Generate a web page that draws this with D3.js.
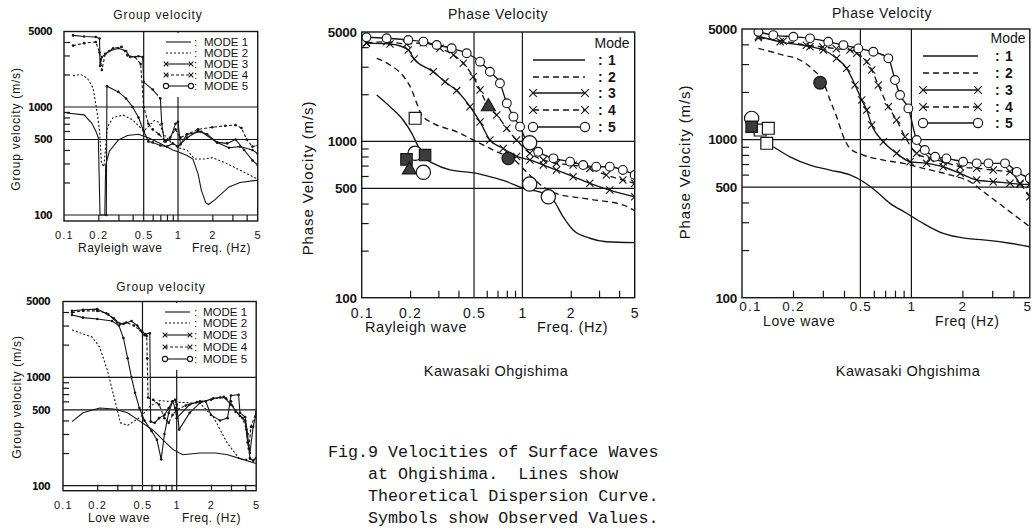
<!DOCTYPE html>
<html>
<head>
<meta charset="utf-8">
<script src="https://cdn.jsdelivr.net/npm/d3@7"></script>
<style>
body { margin: 0; background: #fff; }
svg { display: block; }
</style>
</head>
<body>
<svg id="fig" width="1032" height="529"></svg>
<script>
// ---- axis values ----
const freqLabels = [0.1, 0.2, 0.5, 1, 2, 5];
const freqTicks = [0.2, 0.3, 0.4, 0.6, 0.7, 0.8, 0.9, 2, 3, 4];
const freqGrid = [0.5, 1];
const velLabels = [100, 500, 1000, 5000];
const velTicks = [200, 300, 400, 600, 700, 800, 900, 2000, 3000, 4000];
const groupLegend = ['MODE 1', 'MODE 2', 'MODE 3', 'MODE 4', 'MODE 5'];
const phaseLegend = ['1', '2', '3', '4', '5'];

// ---- Rayleigh wave, group velocity [freq Hz, m/s] ----
const rgMode1 = [[0.105,880],[0.15,845],[0.175,710],[0.19,600],[0.2,520],[0.207,100],[0.228,100],[0.232,290],[0.25,390],[0.3,495],[0.36,545],[0.45,560],[0.55,520],[0.7,460],[0.9,400],[1.0,385],[1.2,355],[1.35,330],[1.5,240],[1.6,170],[1.75,130],[1.85,125],[2.1,138],[2.8,182],[3.5,200],[5,210]];
const rgMode2 = [[0.12,1950],[0.14,2000],[0.16,1850],[0.18,1500],[0.195,900],[0.205,600],[0.213,300],[0.224,280],[0.24,650],[0.27,800],[0.33,840],[0.4,760],[0.5,600],[0.55,660],[0.62,750],[0.68,720],[0.75,560],[0.85,480],[1.0,420],[1.2,400],[1.4,330],[1.7,330],[2.0,340],[2.5,310],[3.5,260],[5,215]];
const rgMode3 = [[0.235,100],[0.238,1560],[0.3,1380],[0.35,1200],[0.4,1000],[0.45,800],[0.5,600],[0.55,480],[0.6,470],[0.7,440],[0.8,430],[0.9,460],[1.0,430],[1.2,520],[1.5,600],[1.8,560],[2.2,470],[2.7,460],[3.2,500],[3.8,400],[4.5,320],[5,290]];
const rgMode4 = [[0.12,3700],[0.15,3900],[0.19,4000],[0.205,3200],[0.215,2200],[0.23,3100],[0.27,3500],[0.32,3600],[0.36,3000],[0.42,2900],[0.47,2500],[0.5,1000],[0.55,700],[0.6,620],[0.68,560],[0.78,480],[0.85,520],[0.95,620],[1.05,520],[1.2,560],[1.5,620],[2,650],[2.6,670],[3.2,680],[3.6,640],[4,500],[4.5,430],[5,440]];
const rgMode5 = [[0.12,4600],[0.15,4500],[0.19,4450],[0.205,4300],[0.207,2400],[0.215,2900],[0.25,3300],[0.3,3500],[0.35,3300],[0.38,2900],[0.45,2950],[0.49,2900],[0.5,1700],[0.6,1450],[0.7,1200],[0.72,700],[0.76,480],[0.85,500],[0.95,700],[1.0,730],[1.05,450],[1.2,560],[1.6,590],[2.2,470],[2.8,420],[3.5,430],[4.5,400],[5,370]];

// ---- Love wave, group velocity ----
const lgMode1 = [[0.12,390],[0.15,470],[0.21,520],[0.28,510],[0.37,470],[0.48,390],[0.62,325],[0.8,250],[0.93,215],[1.13,193],[1.6,200],[2.2,200],[2.8,193],[3.8,175],[5,160]];
const lgMode2 = [[0.12,2730],[0.18,2350],[0.21,1900],[0.245,1170],[0.275,720],[0.3,500],[0.32,380],[0.37,360],[0.48,430],[0.58,540],[0.71,610],[1.0,590],[1.6,575],[2.1,430],[2.8,245],[3.6,175],[5,175]];
const lgMode3 = [[0.12,3750],[0.15,3550],[0.2,3450],[0.27,3300],[0.31,3000],[0.34,2300],[0.37,1500],[0.4,1000],[0.43,720],[0.47,520],[0.52,400],[0.6,320],[0.67,265],[0.73,175],[0.78,300],[0.85,470],[0.92,600],[0.97,620],[1.0,560],[1.05,330],[1.3,470],[1.6,580],[2.1,640],[2.6,660],[3.0,560],[3.6,440],[4.0,400],[4.2,250],[4.4,200],[4.7,350],[5,460]];
const lgMode4 = [[0.12,3950],[0.15,4100],[0.2,4100],[0.24,3900],[0.28,3500],[0.32,3100],[0.36,3200],[0.42,3000],[0.48,2700],[0.52,2450],[0.545,2400],[0.55,1500],[0.56,650],[0.62,620],[0.7,560],[0.78,420],[0.85,380],[0.92,450],[1.0,500],[1.2,550],[1.5,590],[2.0,620],[2.4,650],[2.7,640],[3.0,600],[3.3,480],[3.8,420],[4.1,330],[4.3,220],[4.5,350],[5,480]];
const lgMode5 = [[0.12,4100],[0.15,4200],[0.2,4250],[0.25,3800],[0.3,3200],[0.34,3100],[0.4,3300],[0.45,3000],[0.5,2600],[0.53,2500],[0.58,2550],[0.59,390],[0.64,380],[0.7,420],[0.78,450],[0.85,520],[0.92,600],[0.97,520],[1.0,420],[1.3,560],[1.6,600],[1.8,600],[2.0,450],[2.4,400],[2.8,420],[3.0,680],[3.5,690],[3.6,470],[4.0,430],[4.2,300],[4.4,180],[4.7,170],[5,180]];

// ---- Rayleigh wave, phase velocity ----
const rpMode1 = [[0.124,1977],[0.15,1665],[0.181,1368],[0.205,1125],[0.225,923],[0.242,798],[0.279,723],[0.355,656],[0.52,624],[0.628,594],[0.8,552],[1.01,501],[1.35,465],[1.56,421],[1.79,330],[2.07,271],[2.63,240],[3.33,228],[5,225]];
const rpMode2 = [[0.124,3395],[0.15,3076],[0.186,2529],[0.205,2127],[0.22,1750],[0.236,1473],[0.279,1303],[0.39,1151],[0.52,994],[0.692,857],[0.92,741],[1.01,671],[1.23,552],[1.56,469],[2.63,426],[4.22,392],[5,360]];
const rpMode3 = [[0.107,4240],[0.15,4190],[0.195,3840],[0.212,3360],[0.279,2790],[0.33,2400],[0.39,2110],[0.472,1665],[0.545,1330],[0.628,1020],[0.76,900],[0.92,800],[1.114,760],[1.35,705],[1.63,656],[2.07,594],[2.63,539],[3.5,488],[5,442]];
const rpMode4 = [[0.107,4270],[0.143,4330],[0.19,4190],[0.242,4270],[0.307,3935],[0.372,3565],[0.429,3155],[0.494,2590],[0.545,2127],[0.614,1665],[0.692,1473],[0.8,1211],[0.92,1019],[1.114,838],[1.35,760],[1.63,723],[2.07,705],[2.63,671],[3.33,609],[4.22,566],[5,539]];
const rpMode5 = [[0.107,4625],[0.143,4560],[0.195,4446],[0.242,4340],[0.293,4130],[0.363,3935],[0.45,3656],[0.545,3228],[0.628,2785],[0.725,2350],[0.8,1750],[0.88,1437],[0.967,1240],[1.064,994],[1.254,857],[1.56,778],[1.98,741],[2.39,705],[2.88,688],[3.5,688],[4.22,656],[5,609]];
const rpObserved = [[0.215,838,'openCircle'],[0.19,767,'fullSquare'],[0.248,817,'fullSquare'],[0.215,1403,'openSquare'],[0.198,656,'fullTriangle'],[0.242,634,'openCircle'],[0.614,1665,'fullTriangle'],[0.817,778,'fullCircle'],[1.11,980,'openCircle'],[1.11,533,'openCircle'],[1.45,442,'openCircle']];

// ---- Love wave, phase velocity ----
const lpMode1 = [[0.153,900],[0.192,778],[0.252,690],[0.331,641],[0.434,597],[0.52,541],[0.624,468],[0.748,395],[0.938,342],[1.175,295],[1.54,255],[2.12,237],[2.66,232],[3.82,221],[5,210]];
const lpMode2 = [[0.125,3770],[0.175,3420],[0.22,3183],[0.264,2752],[0.302,2320],[0.331,1778],[0.362,1394],[0.397,1042],[0.434,879],[0.52,798],[0.683,742],[0.895,707],[1.175,658],[1.69,597],[2.22,541],[2.66,468],[3.49,376],[5,281]];
const lpMode3 = [[0.125,4500],[0.168,4150],[0.252,3864],[0.302,3683],[0.362,3262],[0.415,2818],[0.465,2212],[0.509,1778],[0.545,1535],[0.583,1235],[0.683,968],[0.818,818],[0.982,724],[1.23,707],[1.54,673],[1.94,611],[2.43,555],[3.04,541],[3.82,530],[4.38,522],[5,520]];
const lpMode4 = [[0.125,4400],[0.175,4200],[0.24,3950],[0.3,3850],[0.36,3750],[0.434,3683],[0.475,3508],[0.545,3105],[0.583,2752],[0.638,2212],[0.731,1611],[0.818,1328],[0.916,1042],[1.074,818],[1.29,760],[1.54,724],[1.94,673],[2.43,658],[3.04,641],[3.82,625],[4.38,529],[5,435]];
const lpMode5 = [[0.125,4800],[0.153,4576],[0.201,4466],[0.252,4363],[0.323,4150],[0.397,3955],[0.486,3770],[0.596,3590],[0.731,3262],[0.8,2378],[0.857,1911],[0.96,1574],[1.074,993],[1.2,859],[1.38,778],[1.61,760],[2.02,724],[2.43,707],[2.85,707],[3.57,707],[4.19,625],[5,569]];
const lpObserved = [[0.114,1361,'openCircle'],[0.128,1148,'openSquare'],[0.143,1177,'openSquare'],[0.14,946,'openSquare'],[0.114,1205,'fullSquare'],[0.289,2286,'fullCircle']];

const captionLines = [
  'Fig.9 Velocities of Surface Waves',
  'at Ohgishima.  Lines show',
  'Theoretical Dispersion Curve.',
  'Symbols show Observed Values.'
];

const ink = '#151515';
const svg = d3.select('#fig');
svg.append('rect').attr('width', 1032).attr('height', 529).attr('fill', '#fff');

const groupStyles = [
  { dash: null, marker: null },
  { dash: '2,2', marker: null },
  { dash: null, marker: 'dot' },
  { dash: '3,2', marker: 'dot' },
  { dash: null, marker: 'dot' }
];
const phaseStyles = [
  { dash: null, marker: null },
  { dash: '6,4', marker: null },
  { dash: null, marker: 'x' },
  { dash: '6,4', marker: 'x' },
  { dash: null, marker: 'o' }
];
const obsLook = {
  openSquare: { type: d3.symbolSquare, size: 140, fill: '#fff' },
  fullSquare: { type: d3.symbolSquare, size: 130, fill: '#3c3c3c' },
  fullTriangle: { type: d3.symbolTriangle, size: 85, fill: '#3c3c3c' },
  openCircle: { type: d3.symbolCircle, size: 160, fill: '#fff' },
  fullCircle: { type: d3.symbolCircle, size: 125, fill: '#3c3c3c' }
};

const sans = "'Liberation Sans', Arial, Helvetica, sans-serif";
const narrow = "'Liberation Sans Narrow', 'DejaVu Sans Condensed', 'Liberation Sans', sans-serif";

function drawMarker(g, px, py, type, s) {
  if (type === 'x') {
    g.append('path')
      .attr('d', `M${px - s},${py - s}L${px + s},${py + s}M${px - s},${py + s}L${px + s},${py - s}`)
      .attr('stroke', ink).attr('stroke-width', 1.1).attr('fill', 'none');
  } else if (type === 'o') {
    g.append('circle').attr('cx', px).attr('cy', py).attr('r', s)
      .attr('fill', '#fff').attr('stroke', ink).attr('stroke-width', 1.1);
  } else if (type === 'dot') {
    g.append('circle').attr('cx', px).attr('cy', py).attr('r', s).attr('fill', ink);
  }
}

function addText(g, str, x, y, size, opts = {}) {
  const t = g.append('text')
    .attr('x', x).attr('y', y)
    .attr('font-family', opts.family || sans)
    .attr('font-size', size)
    .attr('fill', ink)
    .attr('text-anchor', opts.anchor || 'start')
    .text(str);
  if (opts.spacing) t.attr('letter-spacing', opts.spacing);
  if (opts.weight) t.attr('font-weight', opts.weight);
  if (opts.rotate) t.attr('transform', `rotate(-90,${x},${y})`);
  return t;
}

function drawPanel(p) {
  const x = d3.scaleLog().domain([0.1, 5]).range([p.left, p.right]);
  const y = d3.scaleLog().domain([100, 5000]).range([p.y100, p.top]);
  const bottom = p.y100 + p.extra;
  const g = svg.append('g');

  g.append('clipPath').attr('id', 'clip-' + p.id)
    .append('rect').attr('x', p.left).attr('y', p.top)
    .attr('width', p.right - p.left).attr('height', bottom - p.top);

  // grid lines
  g.selectAll('.hgrid').data(p.hGrid).enter().append('line')
    .attr('x1', p.left).attr('x2', p.right)
    .attr('y1', d => y(d)).attr('y2', d => y(d))
    .attr('stroke', ink).attr('stroke-width', 1.2);
  g.selectAll('.vgrid').data(freqGrid).enter().append('line')
    .attr('x1', d => x(d)).attr('x2', d => x(d))
    .attr('y1', p.top).attr('y2', bottom)
    .attr('stroke', ink).attr('stroke-width', 1.2);

  // theoretical curves
  const plot = g.append('g').attr('clip-path', `url(#clip-${p.id})`);
  const line = d3.line().x(d => x(d[0])).y(d => y(d[1])).curve(p.curve);
  p.modes.forEach((data, i) => {
    const st = p.styles[i];
    plot.append('path').datum(data)
      .attr('d', line)
      .attr('fill', 'none')
      .attr('stroke', ink)
      .attr('stroke-width', p.lineWidth)
      .attr('stroke-dasharray', st.dash);
    if (st.marker) {
      data.forEach(d => drawMarker(plot, x(d[0]), y(d[1]), st.marker, p.markerSize[st.marker]));
    }
  });

  // observed values
  if (p.observed) {
    p.observed.forEach(d => {
      const look = obsLook[d[2]];
      plot.append('path')
        .attr('d', d3.symbol().type(look.type).size(look.size)())
        .attr('transform', `translate(${x(d[0])},${y(d[1])})`)
        .attr('fill', look.fill)
        .attr('stroke', ink).attr('stroke-width', 1.2);
    });
  }

  // legend
  const lg = p.legend;
  if (lg.box) {
    g.append('rect').attr('x', lg.box[0]).attr('y', lg.box[1])
      .attr('width', lg.box[2]).attr('height', lg.box[3]).attr('fill', '#fff');
  }
  if (lg.header) addText(g, lg.header, lg.headerX, lg.headerY, lg.size, { anchor: 'middle' });
  lg.rows.forEach((ry, i) => {
    const st = p.styles[i];
    g.append('line').attr('x1', lg.x1).attr('x2', lg.x2).attr('y1', ry).attr('y2', ry)
      .attr('stroke', ink).attr('stroke-width', p.lineWidth).attr('stroke-dasharray', st.dash);
    const mk = lg.markers[i];
    if (mk) {
      drawMarker(g, lg.x1, ry, mk, lg.markerSize[mk]);
      drawMarker(g, lg.x2, ry, mk, lg.markerSize[mk]);
    }
    addText(g, ':', lg.colonX, ry + lg.dy, lg.size, { weight: lg.weight });
    addText(g, lg.names[i], lg.textX, ry + lg.dy, lg.size, { weight: lg.weight, spacing: lg.spacing });
  });

  // frame
  g.append('rect').attr('x', p.left).attr('y', p.top)
    .attr('width', p.right - p.left).attr('height', bottom - p.top)
    .attr('fill', 'none').attr('stroke', ink).attr('stroke-width', 1.4);

  // ticks (pointing inward)
  const xTicks = g.append('g').attr('transform', `translate(0,${bottom})`)
    .call(d3.axisBottom(x).tickValues(freqTicks).tickSize(-p.tick).tickFormat(''));
  xTicks.select('.domain').remove();
  const yTicks = g.append('g').attr('transform', `translate(${p.left},0)`)
    .call(d3.axisLeft(y).tickValues(velTicks).tickSize(-p.tick).tickFormat(''));
  yTicks.select('.domain').remove();
  g.selectAll('.tick line').attr('stroke', ink).attr('stroke-width', 1.2);

  // tick labels
  const xLab = g.append('g').attr('transform', `translate(0,${p.xLabelY})`)
    .call(d3.axisBottom(x).tickValues(freqLabels).tickSize(0).tickFormat(d => String(d)));
  xLab.select('.domain').remove();
  xLab.selectAll('text').attr('y', 0).attr('dy', 0).attr('fill', ink)
    .attr('font-family', sans).attr('font-size', p.xFont).attr('letter-spacing', p.xSpacing);
  if (p.firstShift) xLab.selectAll('text').filter(d => d === 0.1).attr('x', p.firstShift);
  if (p.lastEnd) xLab.selectAll('text').filter(d => d === 5).attr('text-anchor', 'end').attr('x', 2);

  const yLab = g.append('g').attr('transform', `translate(${p.left},0)`)
    .call(d3.axisLeft(y).tickValues(velLabels).tickSize(0).tickPadding(p.yPad).tickFormat(d => String(d)));
  yLab.select('.domain').remove();
  yLab.selectAll('text').attr('fill', ink)
    .attr('font-family', p.yFamily).attr('font-size', p.yFont)
    .attr('font-weight', 'bold').attr('letter-spacing', p.ySpacing);

  // titles
  addText(g, p.title, p.titleX, p.titleY, p.titleSize, { anchor: 'middle', spacing: p.titleSpacing });
  addText(g, p.yTitle, p.yTitleX, p.yTitleY, p.yTitleSize, { anchor: 'middle', rotate: true, spacing: p.yTitleSpacing });
  addText(g, p.waveName, p.waveX, p.nameY, p.nameSize, { spacing: p.nameSpacing });
  addText(g, p.freqName, p.freqX, p.nameY, p.nameSize, { spacing: p.nameSpacing });
  if (p.site) addText(g, p.site, p.siteX, p.siteY, 14.5, { anchor: 'middle', spacing: 0.5 });
}

const groupLegendBase = {
  names: groupLegend, size: 11.5, dy: 4, spacing: 0, weight: null,
  markers: [null, null, 'x', 'x', 'o'],
  markerSize: { x: 2.3, o: 2.6 }
};
const phaseLegendBase = {
  names: phaseLegend, size: 14, dy: 5, spacing: 0, weight: 'bold',
  markers: [null, null, 'x', 'x', 'o'],
  markerSize: { x: 3.8, o: 4.6 }
};

const groupCommon = {
  styles: groupStyles, curve: d3.curveLinear, lineWidth: 1.1, tick: 6,
  markerSize: { dot: 1.3 }, hGrid: [100, 500, 1000],
  xFont: 11, xSpacing: 1.2, yFont: 10.5, ySpacing: -0.6, yFamily: narrow,
  title: 'Group velocity', titleSize: 12, titleSpacing: 0.9,
  yTitle: 'Group velocity (m/s)', yTitleSize: 12, yTitleSpacing: 0.8,
  nameSize: 12, nameSpacing: 0.5
};
const phaseCommon = {
  styles: phaseStyles, curve: d3.curveMonotoneX, lineWidth: 1.35, tick: 7,
  markerSize: { x: 3.6, o: 4.4 }, hGrid: [500, 1000], extra: 0,
  xFont: 14, xSpacing: 1.2, yFont: 13.5, ySpacing: -0.3, yFamily: sans, yPad: 5,
  title: 'Phase Velocity', titleSize: 14, titleSpacing: 0.6,
  yTitle: 'Phase Velocity (m/s)', yTitleSize: 15, yTitleSpacing: 0.9,
  nameSize: 14.5, nameSpacing: 0.6
};

const panels = [
  Object.assign({}, groupCommon, {
    id: 'rg', left: 64, right: 257.7, top: 31.5, y100: 215, extra: 6, yPad: 12,
    modes: [rgMode1, rgMode2, rgMode3, rgMode4, rgMode5],
    legend: Object.assign({}, groupLegendBase, { box: [158, 33, 98, 64], rows: [42, 53, 64, 75, 86], x1: 166, x2: 191, colonX: 194, textX: 204 }),
    xLabelY: 239, titleX: 158, titleY: 19, yTitleX: 20, yTitleY: 129,
    waveName: 'Rayleigh wave', waveX: 78, freqName: 'Freq. (Hz)', freqX: 192, nameY: 252
  }),
  Object.assign({}, groupCommon, {
    id: 'lg', left: 63, right: 256.2, top: 301.5, y100: 485.7, extra: 5, yPad: 13,
    modes: [lgMode1, lgMode2, lgMode3, lgMode4, lgMode5],
    legend: Object.assign({}, groupLegendBase, { box: [158, 303, 97, 67], rows: [312, 323, 335, 347, 359], x1: 165, x2: 190, colonX: 194, textX: 203 }),
    xLabelY: 509, titleX: 161, titleY: 291, yTitleX: 21, yTitleY: 397,
    waveName: 'Love wave', waveX: 88, freqName: 'Freq. (Hz)', freqX: 182, nameY: 522
  }),
  Object.assign({}, phaseCommon, {
    id: 'rp', left: 361.7, right: 634.7, top: 32, y100: 297.7,
    modes: [rpMode1, rpMode2, rpMode3, rpMode4, rpMode5], observed: rpObserved,
    legend: Object.assign({}, phaseLegendBase, { header: 'Mode', headerX: 612, headerY: 48, rows: [60, 77, 93, 110, 127], x1: 533, x2: 585, colonX: 598, textX: 608 }),
    xLabelY: 318, titleX: 498, titleY: 19, yTitleX: 313, yTitleY: 178,
    waveName: 'Rayleigh wave', waveX: 365, freqName: 'Freq.  (Hz)', freqX: 537, nameY: 332,
    site: 'Kawasaki  Ohgishima', siteX: 496, siteY: 376
  }),
  Object.assign({}, phaseCommon, {
    id: 'lp', left: 742, right: 1029.8, top: 29, y100: 297.7,
    modes: [lpMode1, lpMode2, lpMode3, lpMode4, lpMode5], observed: lpObserved,
    legend: Object.assign({}, phaseLegendBase, { header: 'Mode', headerX: 1008, headerY: 43, rows: [56, 73, 90, 107, 123], x1: 923, x2: 978, colonX: 995, textX: 1005 }),
    xLabelY: 311, xFont: 13.5, firstShift: 8, lastEnd: true,
    titleX: 882, titleY: 18, yTitleX: 690, yTitleY: 162,
    waveName: 'Love wave', waveX: 763, freqName: 'Freq  (Hz)', freqX: 935, nameY: 326, nameSize: 14,
    site: 'Kawasaki  Ohgishima', siteX: 908, siteY: 376
  })
];

panels.forEach(drawPanel);

// caption
const cap = svg.append('g').attr('font-family', "'Courier New', 'Liberation Mono', monospace")
  .attr('font-size', 16.7).attr('fill', ink);
const capX = [328, 368, 368, 368];
const capY = [457, 479, 501, 523];
captionLines.forEach((s, i) => {
  cap.append('text').attr('x', capX[i]).attr('y', capY[i]).attr('xml:space', 'preserve').text(s);
});
</script>
</body>
</html>
